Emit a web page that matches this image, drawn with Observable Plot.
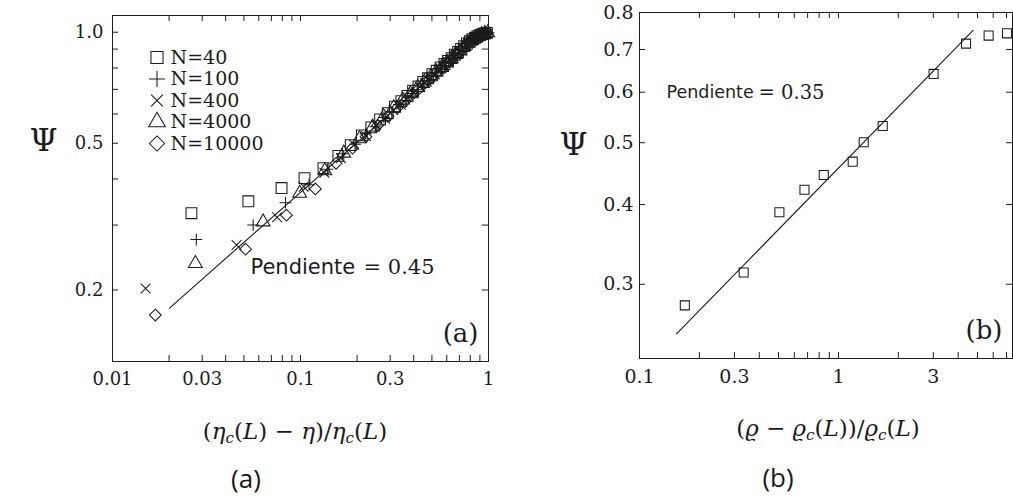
<!DOCTYPE html>
<html>
<head>
<meta charset="utf-8">
<script src="https://cdn.jsdelivr.net/npm/d3@7"></script>
<script src="https://cdn.jsdelivr.net/npm/@observablehq/plot@0.6"></script>
<style>
  html, body { margin: 0; padding: 0; background: #fff; }
  #fig { position: relative; width: 1013px; height: 501px; overflow: hidden; background: #fff; }
  #fig svg { position: absolute; top: 0; }
  .axtitle { position: absolute; font-family: "DejaVu Serif", serif; font-size: 23px; color: #1a1a1a;
             white-space: nowrap; transform: translate(-50%, -50%); line-height: 1; }
  .axtitle sub { font-size: 0.66em; vertical-align: -0.28em; }
  .cap { position: absolute; font-family: "Open Sans", sans-serif; font-size: 26px; color: #1a1a1a;
         transform: translate(-50%, -50%); line-height: 1; }
</style>
</head>
<body>
<div id="fig"></div>
<script>
// ---------- Panel (a) data ----------
const seriesNames = ["N=40", "N=100", "N=400", "N=4000", "N=10000"];

const n40X = [0.0263,0.0528,0.0793,0.105,0.1325,0.159,0.185,0.212,0.238,0.265,0.291,0.318,0.344,0.371,0.397,0.424,0.450,0.477,0.503,0.530,0.556,0.583,0.609,0.636,0.662,0.689,0.715,0.742,0.768,0.795,0.821,0.848,0.874,0.901,0.927,0.954,0.980];
const n40Y = [0.323,0.348,0.378,0.402,0.428,0.462,0.494,0.525,0.552,0.580,0.603,0.628,0.650,0.672,0.694,0.713,0.733,0.750,0.770,0.786,0.803,0.820,0.836,0.851,0.869,0.884,0.901,0.917,0.932,0.945,0.957,0.966,0.975,0.982,0.988,0.992,0.996];

const n100X = [0.0279,0.056,0.0832,0.111,0.139,0.167,0.195,0.222,0.250,0.278,0.306,0.334,0.361,0.389,0.417,0.445,0.473,0.500,0.528,0.556,0.584,0.612,0.639,0.667,0.695,0.723,0.751,0.778,0.806,0.834,0.862,0.890,0.917,0.945,0.973,1.000];
const n100Y = [0.274,0.300,0.345,0.386,0.425,0.468,0.497,0.531,0.554,0.587,0.607,0.637,0.653,0.682,0.698,0.724,0.738,0.763,0.776,0.799,0.812,0.834,0.846,0.869,0.879,0.902,0.914,0.934,0.943,0.959,0.965,0.978,0.982,0.990,0.992,0.997];

const n400X = [0.0150,0.0457,0.0751,0.104,0.134,0.164,0.193,0.223,0.253,0.282,0.312,0.342,0.371,0.401,0.431,0.460,0.490,0.520,0.549,0.579,0.609,0.638,0.668,0.698,0.727,0.757,0.787,0.816,0.846,0.876,0.905,0.935,0.965,0.994];
const n400Y = [0.202,0.265,0.315,0.381,0.416,0.455,0.495,0.523,0.560,0.583,0.615,0.636,0.665,0.684,0.711,0.728,0.754,0.769,0.793,0.808,0.831,0.846,0.870,0.882,0.903,0.918,0.939,0.948,0.964,0.970,0.982,0.985,0.994,0.993];

const n4000X = [0.0276,0.0633,0.0990,0.1347,0.170,0.206,0.242,0.277,0.313,0.349,0.384,0.420,0.456,0.492,0.527,0.563,0.599,0.634,0.670,0.706,0.741,0.777,0.813,0.849,0.884,0.920,0.956,0.991];
const n4000Y = [0.236,0.306,0.366,0.421,0.470,0.514,0.553,0.590,0.624,0.655,0.681,0.708,0.733,0.757,0.781,0.803,0.825,0.847,0.870,0.890,0.915,0.934,0.950,0.963,0.975,0.985,0.992,0.997];

const n10000X = [0.0169,0.0510,0.0842,0.120,0.1545,0.189,0.223,0.257,0.292,0.326,0.360,0.395,0.429,0.463,0.498,0.532,0.566,0.601,0.635,0.669,0.704,0.738,0.772,0.807,0.841,0.875,0.910,0.944,0.978];
const n10000Y = [0.171,0.258,0.319,0.376,0.441,0.485,0.521,0.559,0.591,0.623,0.650,0.680,0.704,0.731,0.754,0.780,0.799,0.825,0.844,0.867,0.885,0.911,0.928,0.947,0.959,0.973,0.981,0.990,0.994];

const fitAX = [0.0201, 0.70];
const fitAY = [0.1787, 0.883];
const slopeA = "0.45";

// ---------- Panel (a) ticks ----------
const xTicksA = [0.01,0.02,0.03,0.04,0.05,0.06,0.07,0.08,0.09,0.1,0.2,0.3,0.4,0.5,0.6,0.7,0.8,0.9,1];
const xLabelTicksA = [0.01,0.03,0.1,0.3,1];
const xLabelsA = ["0.01","0.03","0.1","0.3","1"];
const yTicksA = [0.2,0.3,0.4,0.5,0.6,0.7,0.8,0.9,1];
const yLabelTicksA = [0.2,0.5,1];
const yLabelsA = ["0.2","0.5","1.0"];

// ---------- Panel (b) data ----------
const bX = [0.169,0.334,0.505,0.675,0.844,1.18,1.34,1.67,3.01,4.38,5.69,7.04];
const bY = [0.278,0.313,0.389,0.422,0.445,0.467,0.501,0.531,0.641,0.715,0.736,0.742];
const fitBX = [0.1535, 4.75];
const fitBY = [0.2508, 0.75];
const slopeB = "0.35";

// ---------- Panel (b) ticks ----------
const xTicksB = [0.1,0.2,0.3,0.4,0.5,0.6,0.7,0.8,0.9,1,2,3,4,5,6,7];
const xLabelTicksB = [0.1,0.3,1,3];
const xLabelsB = ["0.1","0.3","1","3"];
const yTicksB = [0.3,0.4,0.5,0.6,0.7,0.8];
const yLabelTicksB = [0.3,0.4,0.5,0.6,0.7,0.8];
const yLabelsB = ["0.3","0.4","0.5","0.6","0.7","0.8"];

// ---------- Styles ----------
const ink = "#1c1c1c";
const H = 501;
const tickLen = 6;
const symStyle = [
  {symbol: "square", r: 6.1, rLeg: 6.8},
  {symbol: "plus", r: 3.9, rLeg: 5.2},
  {symbol: "times", r: 4.5, rLeg: 5.4},
  {symbol: "triangle2", r: 6.6, rLeg: 8.0},
  {symbol: "diamond2", r: 5.3, rLeg: 6.8}
];
const seriesData = [[n40X,n40Y],[n100X,n100Y],[n400X,n400Y],[n4000X,n4000Y],[n10000X,n10000Y]];

const pts = (xs, ys) => xs.map((x, i) => ({x, y: ys[i]}));

function frameTicks(xT, yT, fw, fh) {
  return [
    Plot.tickX(xT, {x: d => d, insetTop: fh - tickLen, stroke: ink}),
    Plot.tickX(xT, {x: d => d, insetBottom: fh - tickLen, stroke: ink}),
    Plot.tickY(yT, {y: d => d, insetRight: fw - tickLen, stroke: ink}),
    Plot.tickY(yT, {y: d => d, insetLeft: fw - tickLen, stroke: ink})
  ];
}

// ---------- Panel (a) ----------
const WA = 506;
const mA = {top: 15, right: 18, bottom: 140, left: 112};
const fwA = WA - mA.left - mA.right, fhA = H - mA.top - mA.bottom;
const xLabA = new Map(xLabelTicksA.map((t, i) => [t, xLabelsA[i]]));
const yLabA = new Map(yLabelTicksA.map((t, i) => [t, yLabelsA[i]]));

const marksA = [
  Plot.frame({stroke: ink, strokeWidth: 1}),
  ...frameTicks(xTicksA, yTicksA, fwA, fhA),
  Plot.axisX({ticks: xLabelTicksA, tickFormat: d => xLabA.get(d), tickSize: 0, tickPadding: 11, label: null, fontSize: 18}),
  Plot.axisY({ticks: yLabelTicksA, tickFormat: d => yLabA.get(d), tickSize: 0, tickPadding: 9, label: null, fontSize: 18}),
  Plot.line(pts(fitAX, fitAY), {x: "x", y: "y", stroke: ink, strokeWidth: 1.1}),
  ...seriesData.map(([xs, ys], i) =>
    Plot.dot(pts(xs, ys), {x: "x", y: "y", symbol: symStyle[i].symbol, r: symStyle[i].r, stroke: ink, fill: "none", strokeWidth: 1.05})),
  // legend
  ...seriesNames.flatMap((name, i) => [
    Plot.dot([name], {frameAnchor: "top-left", dx: 44.5, dy: 42 + i * 21.5, symbol: symStyle[i].symbol, r: symStyle[i].rLeg, stroke: ink, fill: "none", strokeWidth: 1.05}),
    Plot.text([name], {frameAnchor: "top-left", dx: 58, dy: 42 + i * 21.5, text: d => d, textAnchor: "start", lineAnchor: "middle", fontSize: 19, fill: ink})
  ]),
  Plot.text(["Ψ"], {frameAnchor: "top-left", dx: -83, dy: 125, text: d => d, fontSize: 32, fill: ink, lineAnchor: "middle"}),
  Plot.text(["Pendiente"], {frameAnchor: "top-left", dx: 138, dy: 252, text: d => d, textAnchor: "start", lineAnchor: "middle", fontFamily: "DejaVu Sans", fontSize: 21, fill: ink}),
  Plot.text(["= " + slopeA], {frameAnchor: "top-left", dx: 251, dy: 252, text: d => d, textAnchor: "start", lineAnchor: "middle", fontSize: 21, fill: ink}),
  Plot.text(["(a)"], {frameAnchor: "bottom-right", dx: -10, dy: -28, text: d => d, textAnchor: "end", lineAnchor: "middle", fontSize: 26, fill: ink})
];

const plotA = Plot.plot({
  width: WA, height: H,
  marginTop: mA.top, marginRight: mA.right, marginBottom: mA.bottom, marginLeft: mA.left,
  x: {type: "log", domain: [0.01, 1], label: null},
  y: {type: "log", domain: [0.128, 1.11], label: null},
  style: {fontFamily: "DejaVu Serif", fontSize: "18px", color: ink, background: "transparent", overflow: "visible"},
  marks: marksA
});
plotA.style.left = "0px";

// ---------- Panel (b) ----------
const WB = 507;
const mB = {top: 12, right: 1, bottom: 143, left: 133};
const fwB = WB - mB.left - mB.right, fhB = H - mB.top - mB.bottom;
const xLabB = new Map(xLabelTicksB.map((t, i) => [t, xLabelsB[i]]));
const yLabB = new Map(yLabelTicksB.map((t, i) => [t, yLabelsB[i]]));

const marksB = [
  Plot.frame({stroke: ink, strokeWidth: 1}),
  ...frameTicks(xTicksB, yTicksB.slice(0, -1), fwB, fhB),
  Plot.axisX({ticks: xLabelTicksB, tickFormat: d => xLabB.get(d), tickSize: 0, tickPadding: 11, label: null, fontSize: 19}),
  Plot.axisY({ticks: yLabelTicksB, tickFormat: d => yLabB.get(d), tickSize: 0, tickPadding: 6, label: null, fontSize: 19}),
  Plot.line(pts(fitBX, fitBY), {x: "x", y: "y", stroke: ink, strokeWidth: 1.1}),
  Plot.dot(pts(bX, bY), {x: "x", y: "y", symbol: "square", r: 5.1, stroke: ink, fill: "none", strokeWidth: 1.05}),
  Plot.text(["Ψ"], {frameAnchor: "top-left", dx: -80, dy: 132, text: d => d, fontSize: 32, fill: ink, lineAnchor: "middle"}),
  Plot.text(["Pendiente"], {frameAnchor: "top-left", dx: 27, dy: 80, text: d => d, textAnchor: "start", lineAnchor: "middle", fontFamily: "DejaVu Sans", fontSize: 17.5, fill: ink}),
  Plot.text(["= " + slopeB], {frameAnchor: "top-left", dx: 119, dy: 80, text: d => d, textAnchor: "start", lineAnchor: "middle", fontSize: 19.5, fill: ink}),
  Plot.text(["(b)"], {frameAnchor: "bottom-right", dx: -10, dy: -28, text: d => d, textAnchor: "end", lineAnchor: "middle", fontSize: 26, fill: ink})
];

const plotB = Plot.plot({
  width: WB, height: H,
  marginTop: mB.top, marginRight: mB.right, marginBottom: mB.bottom, marginLeft: mB.left,
  x: {type: "log", domain: [0.1, 7.5], label: null},
  y: {type: "log", domain: [0.2295, 0.8], label: null},
  style: {fontFamily: "DejaVu Serif", fontSize: "19px", color: ink, background: "transparent", overflow: "visible"},
  marks: marksB
});
plotB.style.left = "506px";

const fig = document.getElementById("fig");
fig.appendChild(plotA);
fig.appendChild(plotB);

// ---------- Axis titles and panel captions (HTML, for subscripts) ----------
function addLabel(html, cls, x, y) {
  const d = document.createElement("div");
  d.className = cls;
  d.innerHTML = html;
  d.style.left = x + "px";
  d.style.top = y + "px";
  fig.appendChild(d);
}
addLabel("(<i>η</i><sub><i>c</i></sub>(<i>L</i>) − <i>η</i>)/<i>η</i><sub><i>c</i></sub>(<i>L</i>)", "axtitle", 295, 433);
addLabel("(<i>ϱ</i> − <i>ϱ</i><sub><i>c</i></sub>(<i>L</i>))/<i>ϱ</i><sub><i>c</i></sub>(<i>L</i>)", "axtitle", 828, 430);
addLabel("(a)", "cap", 246, 478);
addLabel("(b)", "cap", 778, 477);
</script>
</body>
</html>
